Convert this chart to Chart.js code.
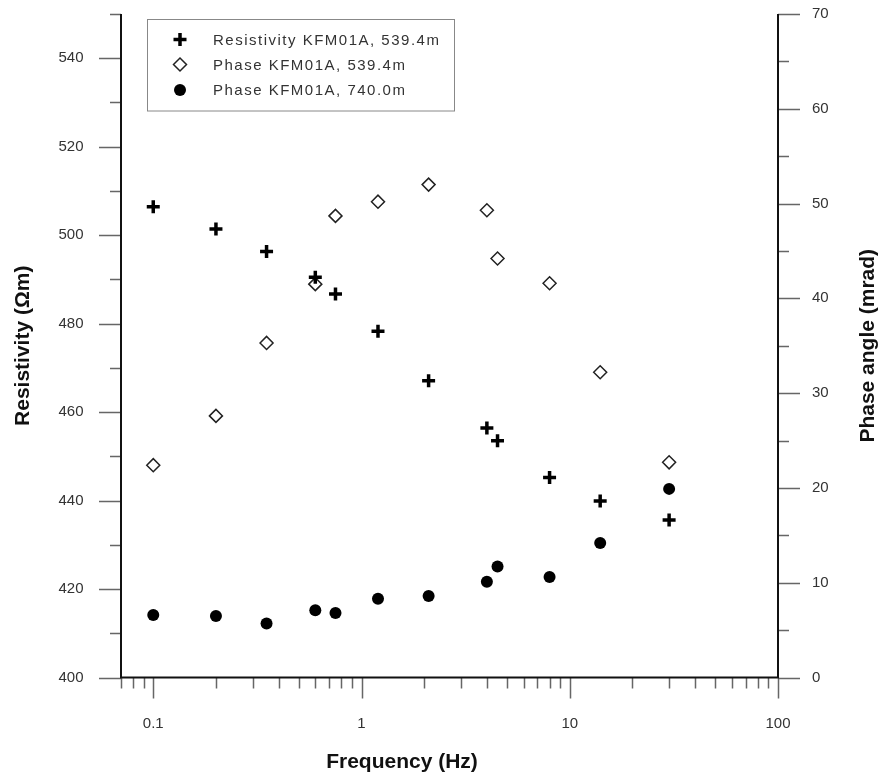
<!DOCTYPE html>
<html>
<head>
<meta charset="utf-8">
<title>Resistivity and phase vs frequency</title>
<script src="https://cdn.jsdelivr.net/npm/chart.js"></script>
<style>
  html, body { margin: 0; padding: 0; background: #fff; }
  #chart { display: block; }
</style>
</head>
<body>
<canvas id="chart" width="878" height="772"></canvas>
<script>
// valores
const frequencies = [0.1, 0.2, 0.35, 0.6, 0.75, 1.2, 2.1, 4, 4.5, 8, 14, 30];
const resistivity539 = [506.4, 501.4, 496.3, 490.5, 486.7, 478.3, 467.1, 456.4, 453.5, 445.2, 439.9, 435.6];
const phase539 = [22.4, 27.6, 35.3, 41.5, 48.7, 50.2, 52.0, 49.3, 44.2, 41.6, 32.2, 22.7];
const phase740 = [6.6, 6.5, 5.7, 7.1, 6.8, 8.3, 8.6, 10.1, 11.7, 10.6, 14.2, 19.9];

const seriesNames = [
  "Resistivity KFM01A, 539.4m",
  "Phase KFM01A, 539.4m",
  "Phase KFM01A, 740.0m",
];

// ticks
const xTicks = [0.07, 0.08, 0.09, 0.1, 0.2, 0.3, 0.4, 0.5, 0.6, 0.7, 0.8, 0.9,
  1, 2, 3, 4, 5, 6, 7, 8, 9, 10, 20, 30, 40, 50, 60, 70, 80, 90, 100];
const xLabels = [0.1, 1, 10, 100];
const leftTicks = [400, 410, 420, 430, 440, 450, 460, 470, 480, 490, 500, 510, 520, 530, 540, 550];
const leftLabels = [400, 420, 440, 460, 480, 500, 520, 540];
const rightTicks = [0, 5, 10, 15, 20, 25, 30, 35, 40, 45, 50, 55, 60, 65, 70];
const rightLabels = [0, 10, 20, 30, 40, 50, 60, 70];

const FONT = "'Liberation Sans', Arial, sans-serif";
const TEXT_COLOR = "#333";

function toPoints(values) {
  return frequencies.map((f, i) => ({ x: f, y: values[i] }));
}

function setTicks(list) {
  return (scale) => {
    scale.ticks = list.map((v) => ({ value: v }));
  };
}

// fixa a largura do eixo e o espaço no topo
function fitVertical(width) {
  return (s) => {
    s.width = width;
    s.paddingTop = 14;
    s.paddingBottom = 0;
  };
}

const markerStyles = [
  { pointStyle: "cross", radius: 6.5, borderWidth: 3.5, borderColor: "#000", backgroundColor: "#000" },
  { pointStyle: "rectRot", radius: 6.5, borderWidth: 1.5, borderColor: "#222", backgroundColor: "#fff" },
  { pointStyle: "circle", radius: 6, borderWidth: 0, borderColor: "#000", backgroundColor: "#000" },
];

function drawMarker(ctx, style, x, y) {
  ctx.save();
  ctx.strokeStyle = style.borderColor;
  ctx.fillStyle = style.backgroundColor;
  ctx.lineWidth = style.borderWidth;
  if (Chart.helpers && Chart.helpers.drawPoint) {
    Chart.helpers.drawPoint(ctx, {
      pointStyle: style.pointStyle,
      radius: style.radius,
      borderWidth: style.borderWidth,
      rotation: 0,
    }, x, y);
  } else {
    ctx.beginPath();
    ctx.arc(x, y, style.radius, 0, Math.PI * 2);
    ctx.fill();
  }
  ctx.restore();
}

// eixos, ticks, títulos e legenda
const framePlugin = {
  id: "frame",
  afterDraw(chart) {
    const ctx = chart.ctx;
    const area = chart.chartArea;
    const xs = chart.scales.x;
    const yl = chart.scales.y;
    const yr = chart.scales.y1;

    ctx.save();
    ctx.strokeStyle = "#666";
    ctx.lineWidth = 1.5;
    ctx.beginPath();
    xTicks.forEach((v) => {
      const px = Math.round(xs.getPixelForValue(v)) + 0.5;
      const len = xLabels.includes(v) ? 21 : 11;
      ctx.moveTo(px, area.bottom);
      ctx.lineTo(px, area.bottom + len);
    });
    leftTicks.forEach((v) => {
      const py = Math.round(yl.getPixelForValue(v)) + 0.5;
      const len = leftLabels.includes(v) ? 22 : 11;
      ctx.moveTo(area.left, py);
      ctx.lineTo(area.left - len, py);
    });
    rightTicks.forEach((v) => {
      const py = Math.round(yr.getPixelForValue(v)) + 0.5;
      const len = rightLabels.includes(v) ? 22 : 11;
      ctx.moveTo(area.right, py);
      ctx.lineTo(area.right + len, py);
    });
    ctx.stroke();

    // linhas dos eixos
    ctx.strokeStyle = "#111";
    ctx.lineWidth = 2;
    ctx.beginPath();
    ctx.moveTo(area.left, area.top);
    ctx.lineTo(area.left, area.bottom);
    ctx.lineTo(area.right, area.bottom);
    ctx.lineTo(area.right, area.top);
    ctx.stroke();

    // títulos
    ctx.fillStyle = "#111";
    ctx.font = "bold 21px " + FONT;
    ctx.textAlign = "center";
    ctx.textBaseline = "alphabetic";
    ctx.fillText("Frequency (Hz)", 402, 768);

    const midY = (area.top + area.bottom) / 2;
    ctx.save();
    ctx.translate(29, midY);
    ctx.rotate(-Math.PI / 2);
    ctx.fillText("Resistivity (\u03A9m)", 0, 0);
    ctx.restore();

    ctx.save();
    ctx.translate(874, midY);
    ctx.rotate(-Math.PI / 2);
    ctx.fillText("Phase angle (mrad)", 0, 0);
    ctx.restore();

    // legenda
    ctx.fillStyle = "#fff";
    ctx.fillRect(147, 19.5, 307, 91.5);
    ctx.strokeStyle = "#888";
    ctx.lineWidth = 1;
    ctx.strokeRect(147.5, 19.5, 307, 91.5);
    const rows = [39.5, 64.5, 90];
    ctx.font = "15px " + FONT;
    ctx.fillStyle = TEXT_COLOR;
    ctx.textAlign = "left";
    ctx.textBaseline = "middle";
    if ("letterSpacing" in ctx) ctx.letterSpacing = "1.5px";
    seriesNames.forEach((name, i) => {
      drawMarker(ctx, markerStyles[i], 180, rows[i]);
      ctx.fillStyle = TEXT_COLOR;
      ctx.fillText(name, 213, rows[i] + 1);
    });
    ctx.restore();
  },
};

const datasets = [
  { data: toPoints(resistivity539), yAxisID: "y", order: 1 },
  { data: toPoints(phase539), yAxisID: "y1", order: 2 },
  { data: toPoints(phase740), yAxisID: "y1", order: 3 },
].map((ds, i) => ({
  ...ds,
  label: seriesNames[i],
  showLine: false,
  pointStyle: markerStyles[i].pointStyle,
  pointRadius: markerStyles[i].radius,
  pointBorderWidth: markerStyles[i].borderWidth,
  pointBorderColor: markerStyles[i].borderColor,
  pointBackgroundColor: markerStyles[i].backgroundColor,
  pointHoverRadius: markerStyles[i].radius,
}));

const tickFont = { family: FONT, size: 15 };

new Chart(document.getElementById("chart"), {
  type: "scatter",
  data: { datasets },
  options: {
    responsive: false,
    animation: false,
    events: [],
    layout: { padding: 0 },
    plugins: { legend: { display: false }, tooltip: { enabled: false } },
    scales: {
      x: {
        type: "logarithmic",
        position: "bottom",
        min: 0.07,
        max: 100,
        border: { display: false },
        grid: { display: false, drawTicks: false },
        afterBuildTicks: setTicks(xTicks),
        afterFit: (s) => {
          s.height = 94.5;
          s.paddingLeft = 0;
          s.paddingRight = 0;
        },
        ticks: {
          autoSkip: false,
          maxRotation: 0,
          padding: 37,
          color: TEXT_COLOR,
          font: tickFont,
          callback: (v) => (xLabels.includes(v) ? String(v) : ""),
        },
      },
      y: {
        type: "linear",
        position: "left",
        min: 400,
        max: 550,
        border: { display: false },
        grid: { display: false, drawTicks: false },
        afterBuildTicks: setTicks(leftTicks),
        afterFit: fitVertical(121),
        ticks: {
          autoSkip: false,
          padding: 37.5,
          color: TEXT_COLOR,
          font: tickFont,
          callback: (v) => (leftLabels.includes(v) ? String(v) : ""),
        },
      },
      y1: {
        type: "linear",
        position: "right",
        min: 0,
        max: 70,
        border: { display: false },
        grid: { display: false, drawTicks: false },
        afterBuildTicks: setTicks(rightTicks),
        afterFit: fitVertical(100),
        ticks: {
          autoSkip: false,
          padding: 34,
          color: TEXT_COLOR,
          font: tickFont,
          callback: (v) => (rightLabels.includes(v) ? String(v) : ""),
        },
      },
    },
  },
  plugins: [framePlugin],
});
</script>
</body>
</html>
